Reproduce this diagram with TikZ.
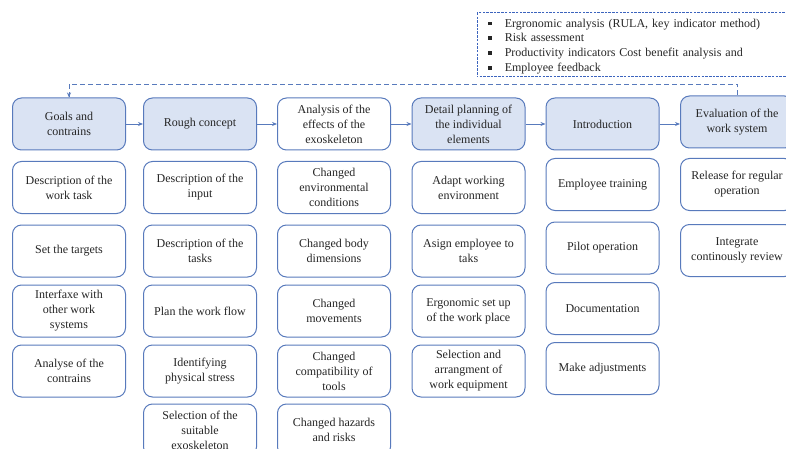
\documentclass[tikz,border=0pt]{standalone}
\usepackage{fontspec}
\setmainfont{Liberation Serif}
\newfontfamily\tnr{Liberation Serif}
\usetikzlibrary{arrows.meta}
\definecolor{bordc}{RGB}{88,122,188}
\definecolor{dashc}{RGB}{60,100,190}
\definecolor{hdrfill}{RGB}{218,227,243}
\definecolor{txtc}{RGB}{38,38,38}
\tikzset{
  x=1pt, y=-1pt,
  box/.style={draw=bordc, line width=1pt, rounded corners=9pt, fill=white,
    minimum width=113pt, minimum height=52pt, align=center, inner sep=2pt,
    text=txtc, font=\tnr\fontsize{12}{15}\selectfont},
  hdr/.style={box, fill=hdrfill},
  flow/.style={draw=bordc, line width=0.9pt, -{Stealth[length=5pt,width=4pt]}},
  fb/.style={draw=bordc, line width=0.9pt, dash pattern=on 5pt off 3pt},
  infotext/.style={text width=300pt, align=left, inner sep=0pt,
    text=txtc, font=\tnr\fontsize{12}{14.8}\selectfont},
  infoframe/.style={draw=dashc, line width=1pt, dash pattern=on 2.5pt off 1.2pt},
}
\newcommand{\bul}{\rule[2pt]{3.6pt}{3.6pt}\hspace{13pt}}
\begin{document}
\begin{tikzpicture}
\useasboundingbox (0,0) rectangle (786,449);
\clip (0,0) rectangle (786,449);
% headers
\node[hdr] (goals) at (69,124) {Goals and\\contrains};
\node[hdr] (rough) at (200,124) {Rough concept};
\node[box] (anal) at (334,124) {Analysis of the\\effects of the\\exoskeleton};
\node[hdr] (detail) at (468.5,124) {Detail planning of\\the individual\\elements};
\node[hdr] (intro) at (602.5,124) {Introduction};
\node[hdr] (eval) at (737,122) {Evaluation of the\\work system};
% column 1
\node[box] (c1a) at (69,187.5) {Description of the\\work task};
\node[box] (c1b) at (69,251) {Set the targets};
\node[box] (c1c) at (69,311) {Interfaxe with\\other work\\systems};
\node[box] (c1d) at (69,371) {Analyse of the\\contrains};
% column 2
\node[box] (c2a) at (200,187.5) {Description of the\\input};
\node[box] (c2b) at (200,251) {Description of the\\tasks};
\node[box] (c2c) at (200,311) {Plan the work flow};
\node[box] (c2d) at (200,371) {Identifying\\physical stress};
\node[box] (c2e) at (200,430) {Selection of the\\suitable\\exoskeleton};
% column 3
\node[box] (c3a) at (334,187.5) {Changed\\environmental\\conditions};
\node[box] (c3b) at (334,251) {Changed body\\dimensions};
\node[box] (c3c) at (334,311) {Changed\\movements};
\node[box] (c3d) at (334,371) {Changed\\compatibility of\\tools};
\node[box] (c3e) at (334,430) {Changed hazards\\and risks};
% column 4
\node[box] (c4a) at (468.5,187.5) {Adapt working\\environment};
\node[box] (c4b) at (468.5,251) {Asign employee to\\taks};
\node[box] (c4c) at (468.5,311) {Ergonomic set up\\of the work place};
\node[box] (c4d) at (468.5,371) {Selection and\\arrangment of\\work equipment};
% column 5
\node[box] (c5a) at (602.5,184.5) {Employee training};
\node[box] (c5b) at (602.5,248) {Pilot operation};
\node[box] (c5c) at (602.5,308.5) {Documentation};
\node[box] (c5d) at (602.5,368.5) {Make adjustments};
% column 6
\node[box] (c6a) at (737,184.5) {Release for regular\\operation};
\node[box] (c6b) at (737,250.5) {Integrate\\continously review};
% info box
\coordinate (infoNW) at (477,13);
\coordinate (infoSE) at (800,77);
\draw[infoframe] (infoNW) rectangle (infoSE);
\node[infotext, anchor=west] (info) at (488,46.5)
  {\bul Ergronomic analysis (RULA, key indicator method)\\
   \bul Risk assessment\\
   \bul Productivity indicators Cost benefit analysis and\\
   \bul Employee feedback};
% flow arrows
\draw[flow] (goals) -- (rough);
\draw[flow] (rough) -- (anal);
\draw[flow] (anal) -- (detail);
\draw[flow] (detail) -- (intro);
\draw[flow] (intro.east) -- (intro.east -| eval.west);
% feedback
\coordinate (fbr) at (737,84);
\draw[fb] (eval.north) -- (fbr) -| (goals.north);
\draw[draw=bordc, line width=0.9pt, -{Stealth[length=5pt,width=4pt]}] ([yshift=5pt]goals.north) -- (goals.north);
\end{tikzpicture}
\end{document}
